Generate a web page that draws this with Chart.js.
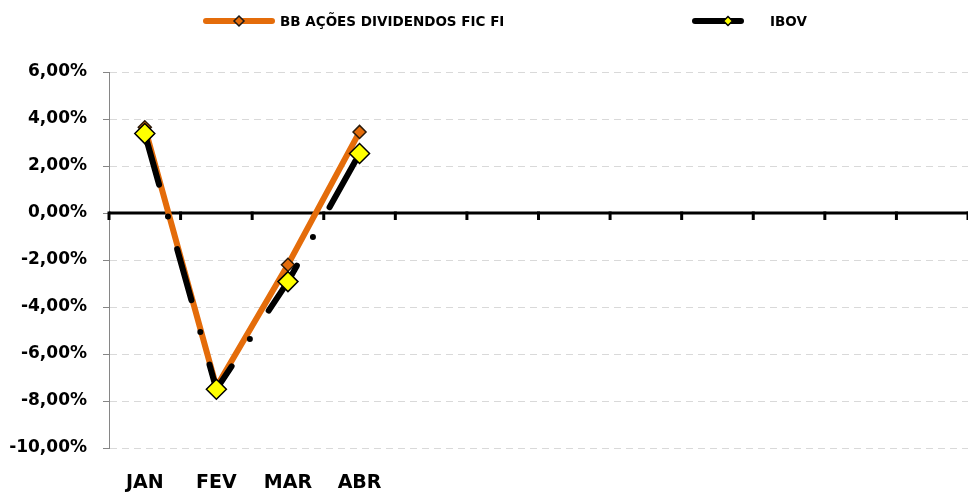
<!DOCTYPE html>
<html>
<head>
<meta charset="utf-8">
<script src="https://cdn.jsdelivr.net/npm/chart.js@4/dist/chart.umd.min.js"></script>
<style>
  html, body { margin: 0; padding: 0; background: #ffffff; }
  #wrap { width: 968px; height: 493px; }
</style>
</head>
<body>
<div id="wrap"><canvas id="c" width="968" height="493"></canvas></div>
<script>
// ---- data ----
const categories = ['JAN', 'FEV', 'MAR', 'ABR', 'MAI', 'JUN', 'JUL', 'AGO', 'SET', 'OUT', 'NOV', 'DEZ'];
const seriesNames = ['BB AÇÕES DIVIDENDOS FIC FI', 'IBOV'];
const fundValues = [3.65, -7.40, -2.20, 3.45, null, null, null, null, null, null, null, null];
const ibovValues = [3.38, -7.50, -2.92, 2.53, null, null, null, null, null, null, null, null];
const yMin = -10;
const yMax = 6;
const yStep = 2;

// ---- styles ----
const ORANGE = '#E46C0A';
const FONT = 'DejaVu Sans';

function fmtPct(v) {
  return v.toFixed(2).replace('.', ',') + '%';
}

const zeroLinePlugin = {
  id: 'zeroLine',
  beforeDatasetsDraw(chart) {
    const { ctx, chartArea, scales } = chart;
    const y = scales.y.getPixelForValue(0);
    ctx.save();
    ctx.strokeStyle = '#000000';
    ctx.lineWidth = 3;
    ctx.lineCap = 'butt';
    ctx.beginPath();
    ctx.moveTo(chartArea.left, y);
    ctx.lineTo(chartArea.right, y);
    ctx.stroke();
    for (let i = 0; i <= categories.length; i++) {
      const x = scales.x.getPixelForValue(i - 0.5);
      ctx.beginPath();
      ctx.moveTo(x, y - 1.5);
      ctx.lineTo(x, y + 7);
      ctx.stroke();
    }
    ctx.restore();
  }
};

function drawDiamond(ctx, x, y, r, fill, stroke) {
  ctx.save();
  ctx.beginPath();
  ctx.moveTo(x, y - r);
  ctx.lineTo(x + r, y);
  ctx.lineTo(x, y + r);
  ctx.lineTo(x - r, y);
  ctx.closePath();
  ctx.fillStyle = fill;
  ctx.fill();
  ctx.lineWidth = 1.5;
  ctx.strokeStyle = stroke;
  ctx.stroke();
  ctx.restore();
}

function drawLegendLine(ctx, x1, x2, y, color) {
  ctx.save();
  ctx.lineCap = 'round';
  ctx.lineWidth = 6;
  ctx.strokeStyle = color;
  ctx.beginPath();
  ctx.moveTo(x1, y);
  ctx.lineTo(x2, y);
  ctx.stroke();
  ctx.restore();
}

const legendPlugin = {
  id: 'customLegend',
  afterDraw(chart) {
    const ctx = chart.ctx;
    const y = 21;
    drawLegendLine(ctx, 206, 272, y, ORANGE);
    drawDiamond(ctx, 239, y, 5, ORANGE, '#1a1a1a');
    drawLegendLine(ctx, 695, 741, y, '#000000');
    drawDiamond(ctx, 728, y, 4.5, '#FFFF00', '#000000');
    ctx.save();
    ctx.fillStyle = '#000000';
    ctx.font = 'bold 13.5px "' + FONT + '"';
    ctx.textBaseline = 'middle';
    ctx.textAlign = 'left';
    ctx.fillText(seriesNames[0], 280, y + 1);
    ctx.fillText(seriesNames[1], 770, y + 1);
    ctx.restore();
  }
};

new Chart(document.getElementById('c'), {
  type: 'line',
  data: {
    labels: categories,
    datasets: [
      {
        label: seriesNames[1],
        data: ibovValues,
        borderColor: '#000000',
        borderWidth: 6,
        borderDash: [53, 33, 0, 34],
        borderCapStyle: 'round',
        borderJoinStyle: 'round',
        tension: 0,
        fill: false,
        pointStyle: 'rectRot',
        pointRadius: 10,
        pointBackgroundColor: '#FFFF00',
        pointBorderColor: '#000000',
        pointBorderWidth: 1.5
      },
      {
        label: seriesNames[0],
        data: fundValues,
        borderColor: ORANGE,
        borderWidth: 6,
        borderCapStyle: 'round',
        borderJoinStyle: 'round',
        tension: 0,
        fill: false,
        pointStyle: 'rectRot',
        pointRadius: 6.5,
        pointBackgroundColor: ORANGE,
        pointBorderColor: '#2a1a0a',
        pointBorderWidth: 1.5
      }
    ]
  },
  options: {
    responsive: false,
    animation: false,
    devicePixelRatio: 1,
    layout: { autoPadding: false, padding: { top: 72, left: 0, right: 0, bottom: 0 } },
    plugins: {
      legend: { display: false },
      tooltip: { enabled: false },
      title: { display: false }
    },
    scales: {
      x: {
        type: 'category',
        offset: true,
        grid: { display: false },
        border: { display: false },
        ticks: {
          color: '#000000',
          font: { family: FONT, size: 19, weight: 'bold' },
          padding: 16,
          maxRotation: 0,
          autoSkip: false,
          callback: function (value, index) {
            return (fundValues[index] === null && ibovValues[index] === null) ? '' : categories[index];
          }
        },
        afterFit: function (scale) {
          scale.height = 45;
          scale.paddingLeft = 0;
          scale.paddingRight = 0;
        }
      },
      y: {
        min: yMin,
        max: yMax,
        grid: {
          color: '#d9d9d9',
          lineWidth: 1,
          tickColor: '#868686',
          tickLength: 6,
          drawTicks: true
        },
        border: { display: true, color: '#868686', width: 1, dash: [7, 5] },
        ticks: {
          stepSize: yStep,
          color: '#000000',
          font: { family: FONT, size: 17, weight: 'bold' },
          padding: 16,
          callback: function (v) { return fmtPct(v); }
        },
        afterFit: function (scale) { scale.width = 109; }
      }
    }
  },
  plugins: [zeroLinePlugin, legendPlugin]
});
</script>
</body>
</html>
